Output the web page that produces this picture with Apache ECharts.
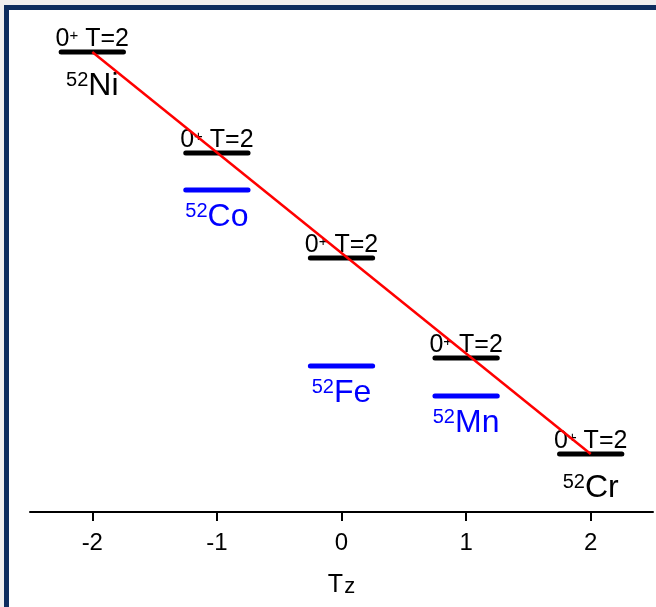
<!DOCTYPE html>
<html>
<head>
<meta charset="utf-8">
<script src="https://cdn.jsdelivr.net/npm/echarts@6/dist/echarts.min.js"></script>
<style>
    html, body { margin: 0; padding: 0; background: #efefef; }
    #frame {
        position: absolute; left: 4px; top: 5px; width: 700px; height: 700px;
        background: #fff; border-left: 5px solid #0c2d5e; border-top: 5px solid #0c2d5e;
    }
    #main { position: absolute; left: 0; top: 0; width: 656px; height: 607px; }
</style>
</head>
<body>
<div id="frame"></div>
<div id="main"></div>
<script>
    // T_z of each A=52 nucleus
    const tz = [-2, -1, 0, 1, 2];
    const elements = ['Ni', 'Co', 'Fe', 'Mn', 'Cr'];
    const massNumber = 52;
    // 0+ T=2 analog states (black) and ground states (blue), arbitrary energy units
    const analogLevels = [9.2, 7.18, 5.08, 3.08, 1.16];
    const groundLevels = [null, 6.44, 2.92, 2.32, null];
    const tickValues = [-2, -1, 0, 1, 2];

    const halfWidth = 0.25;
    const font = 'Liberation Sans, Arial, sans-serif';

    var chart = echarts.init(document.getElementById('main'));

    function levelSeries(x, y, color){
        return {
            type: 'line',
            data: [[x - halfWidth, y], [x + halfWidth, y]],
            symbol: 'none',
            silent: true,
            z: 2,
            lineStyle: { color: color, width: 5, cap: 'round' }
        };
    }

    function nameLabels(filter, color, gap){
        var pts = [];
        for (var i = 0; i < tz.length; i++) {
            var blue = groundLevels[i] != null;
            if (blue !== filter) continue;
            pts.push({ value: [tz[i], blue ? groundLevels[i] : analogLevels[i]], name: elements[i] });
        }
        return {
            type: 'scatter',
            symbolSize: 0,
            silent: true,
            z: 3,
            itemStyle: { opacity: 1 },
            data: pts,
            label: {
                show: true,
                position: 'bottom',
                distance: gap,
                formatter: function (p) { return '{m|' + massNumber + '}{e|' + p.name + '}'; },
                rich: {
                    m: { fontFamily: font, fontSize: 20, lineHeight: 20, color: color, verticalAlign: 'top' },
                    e: { fontFamily: font, fontSize: 32, lineHeight: 32, color: color, verticalAlign: 'bottom' }
                }
            }
        };
    }

    var series = [];
    for (var i = 0; i < tz.length; i++) {
        series.push(levelSeries(tz[i], analogLevels[i], '#000'));
        if (groundLevels[i] != null) {
            series.push(levelSeries(tz[i], groundLevels[i], '#0000ff'));
        }
    }

    // state labels above the black bars
    series.push({
        type: 'scatter',
        symbolSize: 0,
        silent: true,
        z: 3,
        itemStyle: { opacity: 1 },
        data: tz.map(function (x, i) { return [x, analogLevels[i]]; }),
        label: {
            show: true,
            position: 'top',
            distance: 0,
            formatter: '{a|0}{s|+}{a| T=2}',
            rich: {
                a: { fontFamily: font, fontSize: 25, lineHeight: 24, color: '#000', verticalAlign: 'bottom', padding: [5, 0, 0, 0] },
                s: { fontFamily: font, fontSize: 15, lineHeight: 12, color: '#000', verticalAlign: 'top' }
            }
        }
    });

    // nucleus labels below their lowest drawn level
    series.push(nameLabels(false, '#000', 18));
    series.push(nameLabels(true, '#0000ff', 11));

    // straight line through the analog states
    series.push({
        type: 'line',
        data: [[tz[0], analogLevels[0]], [tz[tz.length - 1], analogLevels[tz.length - 1]]],
        symbol: 'none',
        silent: true,
        z: 10,
        lineStyle: { color: '#ff0000', width: 2.5 }
    });

    chart.setOption({
        animation: false,
        grid: { left: 30, right: 3, top: 12, bottom: 95 },
        xAxis: {
            type: 'value',
            min: -2.5,
            max: 2.5,
            interval: 0.5,
            name: '{t|T}{z|z}',
            nameLocation: 'middle',
            nameGap: 44,
            nameTextStyle: {
                rich: {
                    t: { fontFamily: font, fontSize: 25, lineHeight: 25, color: '#000', verticalAlign: 'top' },
                    z: { fontFamily: font, fontSize: 22, lineHeight: 22, color: '#000', verticalAlign: 'bottom', padding: [16, 0, 0, 1] }
                }
            },
            splitLine: { show: false },
            axisLine: { onZero: false, lineStyle: { color: '#000', width: 2 } },
            axisTick: {
                length: 9,
                lineStyle: { color: '#000', width: 2 },
                customValues: tickValues
            },
            axisLabel: {
                fontFamily: font,
                fontSize: 24,
                color: '#000',
                margin: 19,
                customValues: tickValues
            }
        },
        yAxis: {
            type: 'value',
            min: 0,
            max: 10,
            show: false
        },
        series: series
    });
</script>
</body>
</html>
